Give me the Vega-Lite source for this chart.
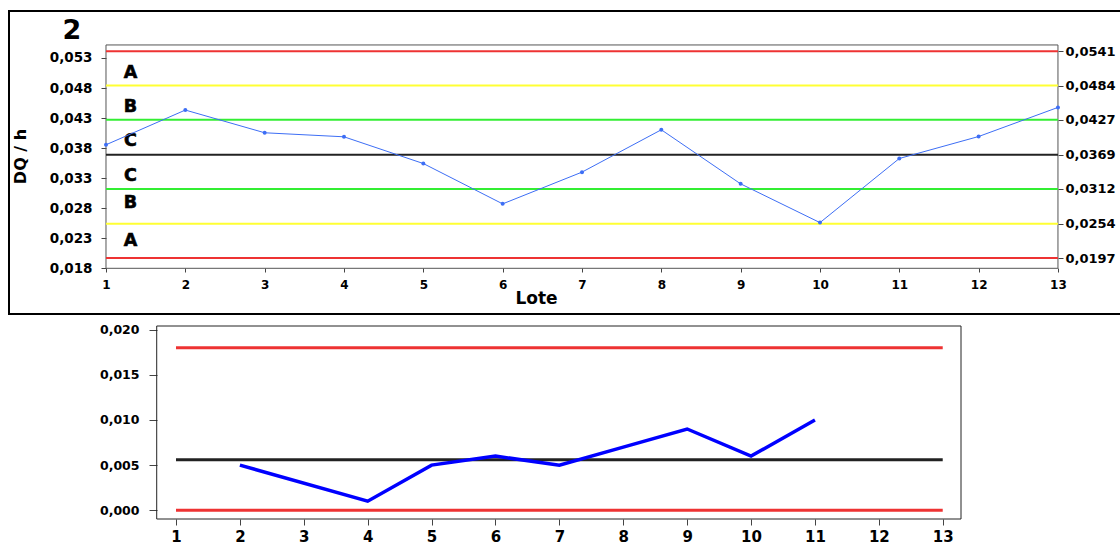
{
  "$schema": "https://vega.github.io/schema/vega-lite/v6.json",
  "padding": {"left": 8, "top": 10, "right": 0, "bottom": 0},
  "background": "white",
  "bounds": "flush",
  "spacing": 12,
  "config": {
    "font": "DejaVu Sans",
    "axis": {
      "labelFont": "DejaVu Sans",
      "labelFontWeight": "bold",
      "labelColor": "black",
      "titleFont": "DejaVu Sans",
      "titleColor": "black",
      "titleFontWeight": "bold",
      "grid": false,
      "domain": false,
      "tickColor": "#444444"
    }
  },
  "vconcat": [
    {
      "width": 1116,
      "height": 303,
      "view": {"stroke": "black", "strokeWidth": 2},
      "resolve": {"scale": {"y": "independent"}},
      "layer": [
        {
          "data": {"values": [{"marco": "grafico"}]},
          "mark": {"type": "rect", "fill": "white", "fillOpacity": 0, "stroke": "#555555", "strokeWidth": 1},
          "encoding": {
            "x": {"datum": 1, "type": "quantitative", "scale": {"domain": [-0.2227, 13.845], "nice": false, "zero": false}},
            "x2": {"datum": 13},
            "y": {"datum": 0.018, "type": "quantitative", "scale": {"domain": [0.010396, 0.060812], "nice": false, "zero": false}, "axis": null},
            "y2": {"datum": 0.05516}
          }
        },
        {
          "data": {"values": [
            {"valor": 0.0541, "tipo": "limite"},
            {"valor": 0.0484, "tipo": "A/B"},
            {"valor": 0.0427, "tipo": "B/C"},
            {"valor": 0.0369, "tipo": "central"},
            {"valor": 0.0312, "tipo": "B/C"},
            {"valor": 0.0254, "tipo": "A/B"},
            {"valor": 0.0197, "tipo": "limite"}
          ]},
          "mark": {"type": "rule"},
          "encoding": {
            "x": {"datum": 1, "type": "quantitative"},
            "x2": {"datum": 13},
            "y": {
              "field": "valor", "type": "quantitative",
              "scale": {"domain": [0.010396, 0.060812], "nice": false, "zero": false},
              "axis": {
                "orient": "right", "offset": -67, "title": null,
                "values": [0.0197, 0.0254, 0.0312, 0.0369, 0.0427, 0.0484, 0.0541],
                "labelExpr": "replace(format(datum.value, '.4f'), '.', ',')",
                "tickSize": 5, "labelPadding": 2, "labelFontSize": 13
              }
            },
            "color": {"field": "tipo", "type": "nominal", "scale": {"domain": ["limite", "A/B", "B/C", "central"], "range": ["#ee3333", "#ffff33", "#33ee33", "#222222"]}, "legend": null},
            "strokeWidth": {"field": "tipo", "type": "nominal", "scale": {"domain": ["limite", "A/B", "B/C", "central"], "range": [2, 2, 2, 1.2]}, "legend": null}
          }
        },
        {
          "data": {"values": [
            {"zona": "A", "nivel": 0.0505},
            {"zona": "B", "nivel": 0.04487},
            {"zona": "C", "nivel": 0.03918},
            {"zona": "C", "nivel": 0.03336},
            {"zona": "B", "nivel": 0.02887},
            {"zona": "A", "nivel": 0.02249}
          ]},
          "mark": {"type": "text", "font": "DejaVu Sans", "fontWeight": "bold", "fontSize": 17.5, "color": "black", "stroke": "black", "strokeWidth": 0.6, "align": "center", "baseline": "middle"},
          "encoding": {
            "x": {"datum": 1.309, "type": "quantitative"},
            "y": {"field": "nivel", "type": "quantitative", "scale": {"domain": [0.010396, 0.060812], "nice": false, "zero": false}, "axis": null},
            "text": {"field": "zona"}
          }
        },
        {
          "data": {"values": [
            {"lote": 1, "valor": 0.03855},
            {"lote": 2, "valor": 0.04433},
            {"lote": 3, "valor": 0.04055},
            {"lote": 4, "valor": 0.03988},
            {"lote": 5, "valor": 0.03543},
            {"lote": 6, "valor": 0.02872},
            {"lote": 7, "valor": 0.0340},
            {"lote": 8, "valor": 0.04105},
            {"lote": 9, "valor": 0.03205},
            {"lote": 10, "valor": 0.0256},
            {"lote": 11, "valor": 0.03627},
            {"lote": 12, "valor": 0.03993},
            {"lote": 13, "valor": 0.04477}
          ]},
          "mark": {"type": "line", "color": "#3d6ef5", "strokeWidth": 1, "point": {"filled": true, "size": 16, "color": "#3d6ef5"}},
          "encoding": {
            "x": {
              "field": "lote", "type": "quantitative",
              "axis": {
                "offset": -46, "title": "Lote", "values": [1, 2, 3, 4, 5, 6, 7, 8, 9, 10, 11, 12, 13], "format": "d",
                "tickSize": 4, "labelPadding": 7, "labelFontSize": 12, "titleFontSize": 17, "titlePadding": 0,
                "titleX": 527
              }
            },
            "y": {
              "field": "valor", "type": "quantitative",
              "scale": {"domain": [0.010396, 0.060812], "nice": false, "zero": false},
              "axis": {
                "orient": "left", "offset": -97, "title": "DQ / h",
                "values": [0.018, 0.023, 0.028, 0.033, 0.038, 0.043, 0.048, 0.053],
                "labelExpr": "replace(format(datum.value, '.3f'), '.', ',')",
                "tickSize": 5, "labelPadding": 9, "labelFontSize": 13.5,
                "titleFontSize": 16, "titleAngle": -90, "titleX": -86, "titleY": 145, "titleAlign": "center", "titleBaseline": "middle"
              }
            }
          }
        },
        {
          "data": {"values": [{"painel": "2"}]},
          "mark": {"type": "text", "font": "DejaVu Sans", "fontWeight": "bold", "fontSize": 27, "color": "black", "align": "center", "baseline": "middle"},
          "encoding": {
            "x": {"datum": 0.5714, "type": "quantitative"},
            "y": {"datum": 0.05748, "type": "quantitative", "scale": {"domain": [0.010396, 0.060812], "nice": false, "zero": false}, "axis": null},
            "text": {"field": "painel"}
          }
        }
      ]
    },
    {
      "width": 952,
      "height": 193,
      "view": {"stroke": null},
      "layer": [
        {
          "data": {"values": [{"marco": "grafico"}]},
          "mark": {"type": "rect", "fill": "white", "fillOpacity": 0, "stroke": "#222222", "strokeWidth": 1},
          "encoding": {
            "x": {"datum": 0.698, "type": "quantitative", "scale": {"domain": [-1.6138, 13.286], "nice": false, "zero": false}},
            "x2": {"datum": 13.286},
            "y": {"datum": -0.000969, "type": "quantitative", "scale": {"domain": [-0.000969, 0.020412], "nice": false, "zero": false}},
            "y2": {"datum": 0.020412}
          }
        },
        {
          "data": {"values": [
            {"valor": 0.018, "tipo": "limite"},
            {"valor": 0.0056, "tipo": "central"},
            {"valor": 0.0, "tipo": "limite"}
          ]},
          "mark": {"type": "rule", "strokeWidth": 3},
          "encoding": {
            "x": {"datum": 1, "type": "quantitative"},
            "x2": {"datum": 13},
            "y": {"field": "valor", "type": "quantitative", "title": null},
            "color": {"field": "tipo", "type": "nominal", "scale": {"domain": ["limite", "central"], "range": ["#ff0000", "#000000"]}, "legend": null}
          }
        },
        {
          "data": {"values": [
            {"lote": 2, "valor": 0.005},
            {"lote": 4, "valor": 0.001},
            {"lote": 5, "valor": 0.005},
            {"lote": 6, "valor": 0.006},
            {"lote": 7, "valor": 0.005},
            {"lote": 8, "valor": 0.007},
            {"lote": 9, "valor": 0.009},
            {"lote": 10, "valor": 0.006},
            {"lote": 11, "valor": 0.010}
          ]},
          "mark": {"type": "line", "color": "#0000ff", "strokeWidth": 3.5},
          "encoding": {
            "x": {
              "field": "lote", "type": "quantitative",
              "axis": {"values": [1, 2, 3, 4, 5, 6, 7, 8, 9, 10, 11, 12, 13], "format": "d", "title": null, "tickSize": 6, "labelPadding": 4, "labelFontSize": 15}
            },
            "y": {
              "field": "valor", "type": "quantitative",
              "axis": {
                "orient": "left", "offset": -148, "title": null,
                "values": [0, 0.005, 0.01, 0.015, 0.02],
                "labelExpr": "replace(format(datum.value, '.3f'), '.', ',')",
                "tickSize": 8, "labelPadding": 10, "labelFontSize": 12.5
              }
            }
          }
        }
      ]
    }
  ]
}
